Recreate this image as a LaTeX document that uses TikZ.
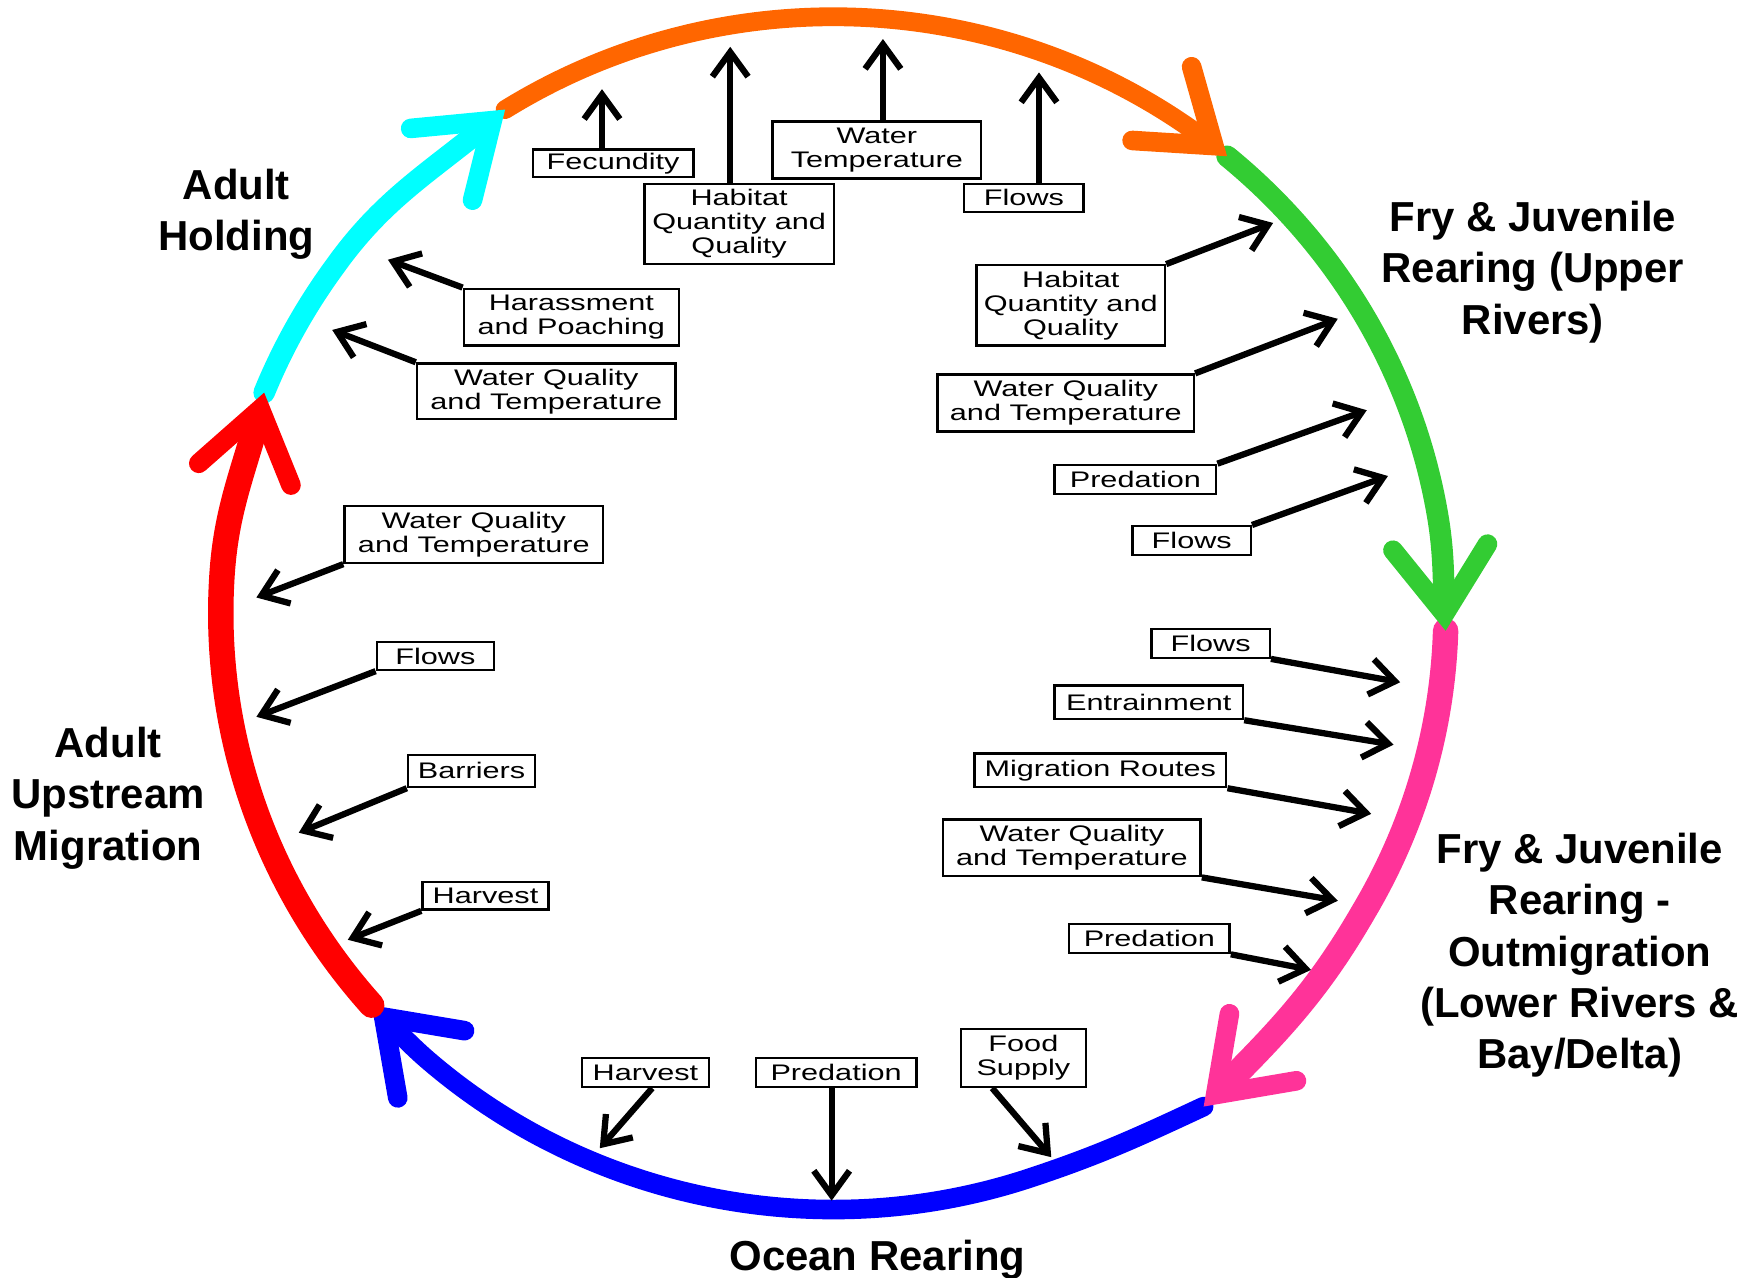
\documentclass[tikz,border=0pt]{standalone}
\usepackage{fontspec}
\setmainfont{Liberation Sans}
\newfontfamily\boxfont[FakeStretch=1.36]{Liberation Sans}
\usetikzlibrary{arrows.meta,bending}
\definecolor{migred}{RGB}{255,0,0}
\definecolor{holdcyan}{RGB}{0,255,255}
\definecolor{spawnorange}{RGB}{255,102,0}
\definecolor{uppergreen}{RGB}{51,204,51}
\definecolor{outpink}{RGB}{255,51,153}
\definecolor{oceanblue}{RGB}{0,0,255}

\begin{document}
\begin{tikzpicture}[
    factor/.style={draw, line width=0.6pt, inner sep=0pt, align=center, font=\boxfont\fontsize{5.75}{6.1}\selectfont},
    stage/.style={align=center, font=\bfseries\fontsize{10.7}{13.1}\selectfont},
    lifearc/.style={line cap=round, -{Straight Barb[length=6mm,width=8.5mm,line width=5pt 0 1,line cap=round,line join=miter]}},
    arrow/.style={line width=1.6pt, -{Straight Barb[length=2.2mm,width=3.2mm]}}
]
\useasboundingbox (0,0) rectangle (15.68,11.46);
\coordinate (ctr) at (7.475,5.96);
\path (ctr) ++(221.1:5.495 and 5.35) coordinate (bluetip);
\path (ctr) ++(158.3:5.495 and 5.35) coordinate (redtip);
\path (ctr) ++(122.4:5.495 and 5.35) coordinate (cyantip);
\path (ctr) ++(50:5.495 and 5.35) coordinate (orangetip);
\path (ctr) ++(-1.7:5.495 and 5.35) coordinate (greentip);
\coordinate (pinktip) at (10.797,1.534);
\path (ctr) ++(-72:5.495 and 5.35) coordinate (bluejoin);

% life cycle ring
\draw[lifearc, oceanblue, line width=5pt] (pinktip) to[out=205, in=18] (bluejoin) arc[start angle=288, end angle=228.1, x radius=5.495, y radius=5.35] to[out=138.1, in=315.4] (bluetip);
\draw[lifearc, outpink, line width=6.5pt] (greentip) arc[start angle=-1.7, end angle=-30, x radius=5.495, y radius=5.35] to[out=-120, in=45] (pinktip);
\draw[lifearc, uppergreen, line width=5.5pt] (orangetip) arc[start angle=50, end angle=9, x radius=5.495, y radius=5.35] to[out=-81, in=94] (greentip);
\draw[lifearc, spawnorange, line width=4.8pt] (cyantip) arc[start angle=122.4, end angle=50, x radius=5.495, y radius=5.35];
\draw[lifearc, holdcyan, line width=5.5pt] (redtip) arc[start angle=158.3, end angle=144.4, x radius=5.495, y radius=5.35] to[out=54.4, in=221] (cyantip);
\draw[lifearc, migred, line width=6.5pt] (bluetip) arc[start angle=221.1, end angle=176.3, x radius=5.495, y radius=5.35] to[out=86.3, in=257] (redtip);

% stages
\node[stage] (hold) at (2.12,9.54) {Adult\\Holding};
\node[stage] (upper) at (13.75,9.02) {Fry \& Juvenile\\Rearing (Upper\\Rivers)};
\node[stage] (upstream) at (0.97,4.30) {Adult\\Upstream\\Migration};
\node[stage] (lower) at (14.17,2.89) {Fry \& Juvenile\\Rearing -\\Outmigration\\(Lower Rivers \&\\Bay/Delta)};
\node[stage, anchor=base] (ocean) at (7.87,0.06) {Ocean Rearing};

% spawning factors
\node[factor, minimum width=1.44cm, minimum height=0.25cm] (fec) at (5.50,9.995) {Fecundity};
\node[factor, minimum width=1.70cm, minimum height=0.72cm] (hab1) at (6.63,9.45) {Habitat\\Quantity and\\Quality};
\node[factor, minimum width=1.87cm, minimum height=0.51cm] (wtemp) at (7.865,10.115) {Water\\Temperature};
\node[factor, minimum width=1.07cm, minimum height=0.25cm] (flw1) at (9.185,9.685) {Flows};
\coordinate (fecT) at (5.40,10.66);
\coordinate (hab1T) at (6.55,11.04);
\coordinate (wtempT) at (7.92,11.11);
\coordinate (flw1T) at (9.32,10.81);
\draw[arrow] (fecT |- fec.north) -- (fecT);
\draw[arrow] (hab1T |- hab1.north) -- (hab1T);
\draw[arrow] (wtempT |- wtemp.north) -- (wtempT);
\draw[arrow] (flw1T |- flw1.north) -- (flw1T);

% upper river rearing
\node[factor, minimum width=1.69cm, minimum height=0.72cm] (hab2) at (9.605,8.72) {Habitat\\Quantity and\\Quality};
\node[factor, minimum width=2.30cm, minimum height=0.51cm] (wq2) at (9.56,7.845) {Water Quality\\and Temperature};
\node[factor, minimum width=1.45cm, minimum height=0.26cm] (pred2) at (10.185,7.16) {Predation};
\node[factor, minimum width=1.06cm, minimum height=0.26cm] (flw2) at (10.69,6.61) {Flows};
\coordinate (hab2T) at (11.42,9.46);
\coordinate (wq2T) at (12.00,8.60);
\coordinate (pred2T) at (12.26,7.78);
\coordinate (flw2T) at (12.45,7.19);
\draw[arrow] (hab2.north east) -- (hab2T);
\draw[arrow] (wq2.north east) -- (wq2T);
\draw[arrow] (pred2.north east) -- (pred2T);
\draw[arrow] (flw2.north east) -- (flw2T);

% outmigration
\node[factor, minimum width=1.06cm, minimum height=0.26cm] (flw3) at (10.86,5.69) {Flows};
\node[factor, minimum width=1.69cm, minimum height=0.30cm] (entr) at (10.305,5.16) {Entrainment};
\node[factor, minimum width=2.26cm, minimum height=0.30cm] (migr) at (9.87,4.55) {Migration Routes};
\node[factor, minimum width=2.31cm, minimum height=0.51cm] (wq3) at (9.615,3.855) {Water Quality\\and Temperature};
\node[factor, minimum width=1.44cm, minimum height=0.26cm] (pred3) at (10.31,3.04) {Predation};
\coordinate (flw3T) at (12.56,5.34);
\coordinate (entrT) at (12.50,4.78);
\coordinate (migrT) at (12.30,4.16);
\coordinate (wq3T) at (12.00,3.38);
\coordinate (pred3T) at (11.76,2.76);
\draw[arrow] (flw3.south east) -- (flw3T);
\draw[arrow] (entr.south east) -- (entrT);
\draw[arrow] (migr.south east) -- (migrT);
\draw[arrow] (wq3.south east) -- (wq3T);
\draw[arrow] (pred3.south east) -- (pred3T);

% ocean
\node[factor, minimum width=1.14cm, minimum height=0.26cm] (harv2) at (5.79,1.84) {Harvest};
\node[factor, minimum width=1.44cm, minimum height=0.26cm] (pred4) at (7.50,1.84) {Predation};
\node[factor, minimum width=1.12cm, minimum height=0.52cm] (food) at (9.18,1.97) {Food\\Supply};
\coordinate (harv2T) at (5.38,1.16);
\coordinate (pred4T) at (7.46,0.69);
\coordinate (foodT) at (9.43,1.08);
\draw[arrow] ([xshift=0.06cm]harv2.south) -- (harv2T);
\draw[arrow] (pred4T |- pred4.south) -- (pred4T);
\draw[arrow] ([xshift=-0.28cm]food.south) -- (foodT);

% upstream migration
\node[factor, minimum width=2.32cm, minimum height=0.51cm] (wq4) at (4.25,6.665) {Water Quality\\and Temperature};
\node[factor, minimum width=1.05cm, minimum height=0.25cm] (flw4) at (3.905,5.575) {Flows};
\node[factor, minimum width=1.14cm, minimum height=0.29cm] (barr) at (4.23,4.545) {Barriers};
\node[factor, minimum width=1.13cm, minimum height=0.25cm] (harv1) at (4.355,3.425) {Harvest};
\coordinate (wq4T) at (2.30,6.10);
\coordinate (flw4T) at (2.30,5.03);
\coordinate (barrT) at (2.68,3.99);
\coordinate (harv1T) at (3.12,3.03);
\draw[arrow] (wq4.south west) -- (wq4T);
\draw[arrow] (flw4.south west) -- (flw4T);
\draw[arrow] (barr.south west) -- (barrT);
\draw[arrow] (harv1.south west) -- (harv1T);

% holding
\node[factor, minimum width=1.93cm, minimum height=0.51cm] (hara) at (5.125,8.615) {Harassment\\and Poaching};
\node[factor, minimum width=2.32cm, minimum height=0.50cm] (wq1) at (4.90,7.95) {Water Quality\\and Temperature};
\coordinate (haraT) at (3.48,9.13);
\coordinate (wq1T) at (2.98,8.50);
\draw[arrow] (hara.north west) -- (haraT);
\draw[arrow] (wq1.north west) -- (wq1T);

\end{tikzpicture}
\end{document}
